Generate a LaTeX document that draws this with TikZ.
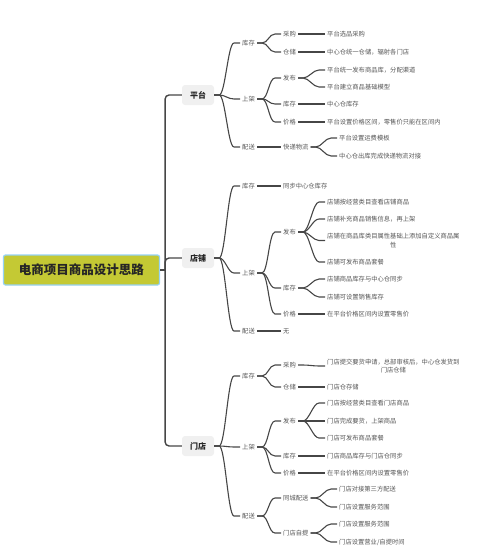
\documentclass[tikz,border=0pt]{standalone}
\usepackage{fontspec}
\setmainfont{Noto Sans CJK SC}
\usetikzlibrary{positioning}
\definecolor{rootfill}{RGB}{196,201,52}
\definecolor{rootline}{RGB}{150,210,245}
\definecolor{topicfill}{RGB}{240,240,240}
\definecolor{linegray}{RGB}{70,70,70}
\definecolor{textgray}{RGB}{85,85,85}

\begin{document}
\begin{tikzpicture}[x=1pt, y=-1pt,
        root/.style={draw=rootline, line width=1.2pt, fill=rootfill, rounded corners=2pt, minimum width=156pt, minimum height=30pt, font=\fontsize{12.5}{14}\selectfont\bfseries, text=black!85},
        topic/.style={fill=topicfill, rounded corners=3pt, minimum width=32pt, minimum height=20pt, font=\fontsize{8}{10}\selectfont\bfseries, text=black!85},
        sub/.style={anchor=west, inner sep=2pt, font=\fontsize{6.3}{8.5}\selectfont, text=textgray},
        leaf/.style={sub, align=center},
        trunk/.style={draw=linegray, line width=1.4pt, rounded corners=4pt},
        branch/.style={draw=linegray, line width=1.1pt, to path={-- ++(5,0) .. controls +(6,0) and +(-6,0) .. ([xshift=-6pt]\tikztotarget) -- (\tikztotarget)}}]
        \useasboundingbox (0,0) rectangle (500,549);

        \node[root] (root) at (81.5,270) {电商项目商品设计思路};
        \node[topic] (plat) at (198,95) {平台};
        \node[topic] (shop) at (198,258) {店铺};
        \node[topic] (store) at (198,446) {门店};

        \draw[trunk] (root.east) -- ++(5,0) coordinate (hub);
        \draw[trunk] (hub) |- (plat.west);
        \draw[trunk] (hub) |- (shop.west);
        \draw[trunk] (hub) |- (store.west);

        % 平台
        \node[sub] (platstock) at (240,43) {库存};
        \node[sub] (platlist) at (240,99) {上架};
        \node[sub] (platship) at (240,147) {配送};
        \draw[branch] (plat.east) to (platstock.west);
        \draw[branch] (plat.east) to (platlist.west);
        \draw[branch] (plat.east) to (platship.west);

        \node[sub] (platbuy) at (281,34) {采购};
        \node[sub] (platwh) at (281,52) {仓储};
        \node[leaf] (platbuytxt) at (325,34) {平台选品采购};
        \node[leaf] (platwhtxt) at (325,52) {中心仓统一仓储，辐射各门店};
        \draw[branch] (platstock.east) to (platbuy.west);
        \draw[branch] (platstock.east) to (platwh.west);
        \draw[branch] (platbuy.east) to (platbuytxt.west);
        \draw[branch] (platwh.east) to (platwhtxt.west);

        \node[sub] (platpub) at (281,78) {发布};
        \node[sub] (platinv) at (281,104) {库存};
        \node[sub] (platprice) at (281,122) {价格};
        \draw[branch] (platlist.east) to (platpub.west);
        \draw[branch] (platlist.east) to (platinv.west);
        \draw[branch] (platlist.east) to (platprice.west);
        \node[leaf] (platpubA) at (325,70) {平台统一发布商品库，分配渠道};
        \node[leaf] (platpubB) at (325,87) {平台建立商品基础模型};
        \node[leaf] (platinvtxt) at (325,104) {中心仓库存};
        \node[leaf] (platpricetxt) at (325,122) {平台设置价格区间，零售价只能在区间内};
        \draw[branch] (platpub.east) to (platpubA.west);
        \draw[branch] (platpub.east) to (platpubB.west);
        \draw[branch] (platinv.east) to (platinvtxt.west);
        \draw[branch] (platprice.east) to (platpricetxt.west);

        \node[sub] (platexp) at (281,147) {快递物流};
        \draw[branch] (platship.east) to (platexp.west);
        \node[leaf] (platexpA) at (337,138) {平台设置运费模板};
        \node[leaf] (platexpB) at (337,156) {中心仓出库完成快递物流对接};
        \draw[branch] (platexp.east) to (platexpA.west);
        \draw[branch] (platexp.east) to (platexpB.west);

        % 店铺
        \node[sub] (shopstock) at (240,186) {库存};
        \node[sub] (shoplist) at (240,273) {上架};
        \node[sub] (shopship) at (240,331) {配送};
        \draw[branch] (shop.east) to (shopstock.west);
        \draw[branch] (shop.east) to (shoplist.west);
        \draw[branch] (shop.east) to (shopship.west);

        \node[leaf] (shopstocktxt) at (281,186) {同步中心仓库存};
        \draw[branch] (shopstock.east) to (shopstocktxt.west);

        \node[sub] (shoppub) at (281,232) {发布};
        \node[sub] (shopinv) at (281,288) {库存};
        \node[sub] (shopprice) at (281,314) {价格};
        \draw[branch] (shoplist.east) to (shoppub.west);
        \draw[branch] (shoplist.east) to (shopinv.west);
        \draw[branch] (shoplist.east) to (shopprice.west);
        \node[leaf] (shoppubA) at (325,202) {店铺按经营类目查看店铺商品};
        \node[leaf] (shoppubB) at (325,219) {店铺补充商品销售信息，再上架};
        \node[leaf] (shoppubC) at (325,240.5) {店铺在商品库类目属性基础上添加自定义商品属\\性};
        \node[leaf] (shoppubD) at (325,262) {店铺可发布商品套餐};
        \draw[branch] (shoppub.east) to (shoppubA.west);
        \draw[branch] (shoppub.east) to (shoppubB.west);
        \draw[branch] (shoppub.east) to (shoppubC.west);
        \draw[branch] (shoppub.east) to (shoppubD.west);
        \node[leaf] (shopinvA) at (325,279) {店铺商品库存与中心仓同步};
        \node[leaf] (shopinvB) at (325,297) {店铺可设置销售库存};
        \draw[branch] (shopinv.east) to (shopinvA.west);
        \draw[branch] (shopinv.east) to (shopinvB.west);
        \node[leaf] (shoppricetxt) at (325,314) {在平台价格区间内设置零售价};
        \draw[branch] (shopprice.east) to (shoppricetxt.west);

        \node[leaf] (shopshiptxt) at (281,331) {无};
        \draw[branch] (shopship.east) to (shopshiptxt.west);

        % 门店
        \node[sub] (storestock) at (240,376) {库存};
        \node[sub] (storelist) at (240,447) {上架};
        \node[sub] (storeship) at (240,516) {配送};
        \draw[branch] (store.east) to (storestock.west);
        \draw[branch] (store.east) to (storelist.west);
        \draw[branch] (store.east) to (storeship.west);

        \node[sub] (storebuy) at (281,365) {采购};
        \node[sub] (storewh) at (281,387) {仓储};
        \draw[branch] (storestock.east) to (storebuy.west);
        \draw[branch] (storestock.east) to (storewh.west);
        \node[leaf] (storebuytxt) at (325,366) {门店提交要货申请，总部审核后，中心仓发货到\\门店仓储};
        \node[leaf] (storewhtxt) at (325,387) {门店仓存储};
        \draw[branch] (storebuy.east) to (storebuytxt.west);
        \draw[branch] (storewh.east) to (storewhtxt.west);

        \node[sub] (storepub) at (281,421) {发布};
        \node[sub] (storeinv) at (281,456) {库存};
        \node[sub] (storeprice) at (281,473) {价格};
        \draw[branch] (storelist.east) to (storepub.west);
        \draw[branch] (storelist.east) to (storeinv.west);
        \draw[branch] (storelist.east) to (storeprice.west);
        \node[leaf] (storepubA) at (325,403) {门店按经营类目查看门店商品};
        \node[leaf] (storepubB) at (325,421) {门店完成要货，上架商品};
        \node[leaf] (storepubC) at (325,438) {门店可发布商品套餐};
        \draw[branch] (storepub.east) to (storepubA.west);
        \draw[branch] (storepub.east) to (storepubB.west);
        \draw[branch] (storepub.east) to (storepubC.west);
        \node[leaf] (storeinvtxt) at (325,456) {门店商品库存与门店仓同步};
        \node[leaf] (storepricetxt) at (325,473) {在平台价格区间内设置零售价};
        \draw[branch] (storeinv.east) to (storeinvtxt.west);
        \draw[branch] (storeprice.east) to (storepricetxt.west);

        \node[sub] (storecity) at (281,498) {同城配送};
        \node[sub] (storepick) at (281,533) {门店自提};
        \draw[branch] (storeship.east) to (storecity.west);
        \draw[branch] (storeship.east) to (storepick.west);
        \node[leaf] (storecityA) at (337,489) {门店对接第三方配送};
        \node[leaf] (storecityB) at (337,507) {门店设置服务范围};
        \node[leaf] (storepickA) at (337,524) {门店设置服务范围};
        \node[leaf] (storepickB) at (337,542) {门店设置营业/自提时间};
        \draw[branch] (storecity.east) to (storecityA.west);
        \draw[branch] (storecity.east) to (storecityB.west);
        \draw[branch] (storepick.east) to (storepickA.west);
        \draw[branch] (storepick.east) to (storepickB.west);
    \end{tikzpicture}
\end{document}
